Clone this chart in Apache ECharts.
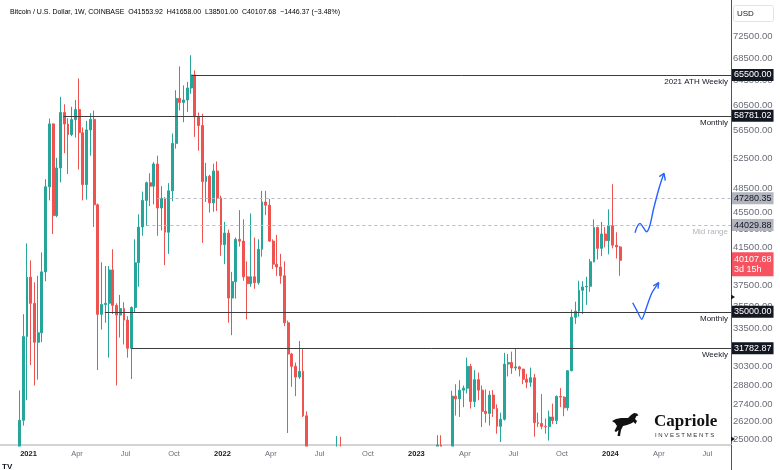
<!DOCTYPE html>
<html><head><meta charset="utf-8">
<script src="https://cdn.jsdelivr.net/npm/echarts@6/dist/echarts.min.js"></script>
<style>html,body{margin:0;padding:0;background:#fff}#c{width:780px;height:470px}</style>
</head><body><div id="c"></div>
<script>
// ---------- DATA (weekly BTC/USD, Coinbase) ----------
const firstWeek = '2020-12-21';   // Monday of first weekly bar
const open = [23480,26270,32780,38360,35790,32290,33110,38900,48720,57540,45140,51210,59300,57520,55950,58200,59770,56220,49000,56630,58230,46460,34770,35680,35800,39100,35600,34700,35300,34240,31780,35400,39850,43800,47000,49250,48800,51750,46060,47260,43200,48200,54650,61550,60900,61300,63270,65500,58620,57300,49400,50100,46700,50800,47300,41800,43100,36300,37900,42400,42200,38400,37700,38400,37800,41300,46800,46400,42200,39700,39400,38500,34000,31300,30300,29450,29900,26580,20550,21030,19300,20850,20800,22600,23300,23180,24300,21520,20050,19800,21800,19400,18800,19300,19400,19200,20600,20630,20900,16300,16280,16450,17100,17120,16750,16850,16550,17130,20900,22700,23750,22950,21800,24600,23550,22430,22150,28000,27800,28450,28600,30300,27600,29250,28450,26900,26750,28080,27100,25850,26340,30480,30600,30170,30250,30080,29280,29050,29400,26100,26050,25850,25830,26500,26250,27980,27930,27150,29950,34500,35050,37050,37380,37450,39950,43750,41400,43000,42250,43950,41750,41553.92];
const high = [28420,34780,41950,40100,37850,38500,40950,49700,58350,57600,52600,61800,60600,58400,60200,61300,64900,57000,58000,59200,59600,46600,39900,39500,39500,41300,35800,36600,35900,34600,35500,42400,45300,48100,49400,50500,52000,52900,48800,47400,49200,56100,62900,67000,63700,64300,69000,66300,59300,59100,51900,50300,51800,52100,47600,44400,43500,38900,42600,45800,44700,40000,45400,42600,42400,48200,48200,47200,42400,42900,40800,40000,34200,31400,30600,32400,31700,26900,21900,21550,22500,21600,24280,24550,23650,25200,25150,21850,20550,21850,22800,19950,20350,20450,19950,19700,21000,21480,21050,17200,16800,17400,17450,18400,17050,16950,17200,21450,23350,23800,24250,23450,25250,25250,23900,22600,28400,28900,29200,28800,31000,30500,30000,29800,28800,28500,28400,28450,27400,26800,31400,31300,31500,31800,30350,30100,29700,30200,29700,26800,28150,26400,26950,27450,28050,28600,27980,30000,35200,35950,38000,37950,38400,40250,44700,43850,44400,43800,45900,49050,43200,41658.00];
const low = [22350,25900,27700,30400,28800,29250,32300,37950,47000,43000,44950,49300,53250,50400,55700,55500,51000,47000,47100,52900,43800,30000,33400,34000,31000,34800,28800,32700,32100,31000,29300,34900,37400,42800,43900,46300,46500,42800,43400,39600,40800,46900,53900,59600,57800,59400,62300,55600,53600,42000,46800,45500,45600,45700,40600,39700,34000,32900,36250,41600,38000,34300,37400,37200,37600,40500,45200,42100,39200,38500,37700,33700,25400,28700,28000,29300,26500,17600,19650,18650,19050,18900,20750,20700,22400,22650,20800,19550,19600,18550,19350,18150,18500,19100,18200,18650,19250,20050,15600,15800,15450,16000,16700,16500,16400,16350,16520,17000,20400,22300,22500,21450,21400,23100,21900,19600,21900,26600,26500,27200,28200,27100,27200,27700,25800,26100,25900,26500,25350,24800,26250,29500,29700,29950,29500,28900,28600,28700,25150,25800,25650,25350,24900,26000,26000,27200,26550,26950,29900,33900,34550,34800,35650,36900,39900,40200,40550,41500,40750,41400,40300,38501.00];
const close = [26270,32780,38360,35790,32290,33110,38900,48720,57540,45140,51210,59300,57520,55950,58200,59770,56220,49000,56630,58230,46460,34770,35680,35800,39100,35600,34700,35300,34240,31780,35400,39850,43800,47000,49250,48800,51750,46060,47260,43200,48200,54650,61550,60900,61300,63270,65500,58620,57300,49400,50100,46700,50800,47300,41800,43100,36300,37900,42400,42200,38400,37700,38400,37800,41300,46800,46400,42200,39700,39400,38500,34000,31300,30300,29450,29900,26580,20550,21030,19300,20850,20800,22600,23300,23180,24300,21520,20050,19800,21800,19400,18800,19300,19400,19200,20600,20630,20900,16300,16280,16450,17100,17120,16750,16850,16550,17130,20900,22700,23750,22950,21800,24600,23550,22430,22150,28000,27800,28450,28600,30300,27600,29250,28450,26900,26750,28080,27100,25850,26340,30480,30600,30170,30250,30080,29280,29050,29400,26100,26050,25850,25830,26500,26250,27980,27930,27150,29950,34500,35050,37050,37380,37450,39950,43750,41400,43000,42250,43950,41750,41553.92,40107.68];

const priceTicks = [25000,26200,27400,28800,30300,33500,35500,37500,39500,41500,43500,45500,48500,52500,56500,60500,64500,68500,72500];
const timeTicks = ['2021-01-04','2021-04-05','2021-07-05','2021-10-04','2022-01-03','2022-04-04','2022-07-04','2022-10-03','2023-01-02','2023-04-03','2023-07-03','2023-10-02','2024-01-01','2024-04-01','2024-07-01'];
const monthNames = ['','','','Apr','','','Jul','','','Oct','',''];

// horizontal levels
const levelValues = [65500, 58781.02, 35000, 31782.87, 47280.35, 44029.88];
const levelStarts = ['2021-11-09','2021-03-13','2021-05-30','2021-07-19','2021-09-06','2021-08-16'];
const levelTexts  = ['2021 ATH Weekly','Monthly','Monthly','Weekly','','Mid range'];
const levelKinds  = ['solid','solid','solid','solid','dash','dash'];
const lastPrice = 40107.68;
const lastPriceTimer = '3d 15h';
const changeText = '\u22121446.37 (\u22123.48%)';

// hand-drawn arrows: [time, price]
const arrowUpPath = [['2024-02-19T01:00',43150],['2024-02-23T17:30',43920],['2024-02-28T10:00',44230],['2024-03-05T01:00',43800],['2024-03-12T00:00',43260],['2024-03-18T04:30',44040],['2024-03-24T09:00',45820],['2024-03-30T18:00',47460],['2024-04-05T23:00',48950],['2024-04-13T11:00',50490]];
const arrowUpHead = [['2024-04-04T15:30',50040],['2024-04-13T11:00',50490],['2024-04-15T21:30',49510]];
const arrowDownPath = [['2024-02-14T17:00',35850],['2024-02-22T19:00',35080],['2024-03-02T14:30',34310],['2024-03-12T00:00',35480],['2024-03-21T09:00',36760],['2024-04-03T12:30',37800]];
const arrowDownHead = [['2024-03-24T09:00',37480],['2024-04-03T12:30',37800],['2024-04-02T05:00',37210]];

// ---------- BUILD ----------
const DAY = 864e5;
const ts = s => Date.parse(s.length === 10 ? s + 'T00:00:00Z' : s + ':00Z');
const t0 = ts(firstWeek);
const candles = open.map((o, i) => [t0 + i * 7 * DAY, o, close[i], low[i], high[i]]);
const anchor = ts('2021-01-04');
const X_MIN = anchor - 50.67 * DAY;
const X_MAX = anchor + 1321.18 * DAY;
const Y_MIN = 24606, Y_MAX = 79858;
const FONT = '"Liberation Sans", Arial, sans-serif';
const UP = '#26a69a', DOWN = '#ef5350';
const HIDDEN = {color: 'rgba(0,0,0,0)', width: 1, opacity: 1};

const levelLines = levelValues.map((v, i) => {
  const solid = levelKinds[i] === 'solid';
  return [{
    coord: [ts(levelStarts[i]), v],
    lineStyle: solid ? {color: '#3c3c3c', width: 1, type: 'solid'} : {color: '#b8bbc4', width: 1, type: [3, 3]},
    label: {show: !!levelTexts[i], position: 'insideEndBottom', distance: 3, formatter: levelTexts[i] || ' ',
      color: solid ? '#131722' : '#b2b5be', fontSize: 8, fontFamily: FONT}
  }, {coord: [X_MAX, v]}];
});

const labels = [];
priceTicks.forEach(v => labels.push({
  yAxis: v, lineStyle: HIDDEN,
  label: {show: true, position: 'end', distance: 2, formatter: v.toFixed(2), color: '#6a6d78', fontSize: 9.5, fontFamily: FONT}
}));
timeTicks.forEach(s => {
  const d = new Date(ts(s)); const m = d.getUTCMonth();
  const isYear = m === 0;
  labels.push({
    xAxis: ts(s), lineStyle: HIDDEN,
    label: {show: true, position: 'start', distance: 5, formatter: isYear ? String(d.getUTCFullYear()) : monthNames[m],
      color: isYear ? '#131722' : '#6a6d78', fontWeight: isYear ? 'bold' : 'normal', fontSize: 7.5, fontFamily: FONT, padding: [0, 0, 0, 3]}
  });
});
levelValues.forEach((v, i) => {
  const solid = levelKinds[i] === 'solid';
  labels.push({
    yAxis: v, lineStyle: HIDDEN,
    label: {show: true, position: 'end', distance: 1, formatter: v.toFixed(2),
      backgroundColor: solid ? '#131722' : '#b2b5be', color: solid ? '#ffffff' : '#131722',
      padding: [2, 2, 1, 2], fontSize: 9, fontFamily: FONT}
  });
});
labels.push({
  yAxis: lastPrice, lineStyle: HIDDEN,
  label: {show: true, position: 'end', distance: 1, offset: [0, 4],
    formatter: lastPrice.toFixed(2) + '\n' + lastPriceTimer,
    backgroundColor: '#f7525f', color: '#ffffff', padding: [2, 2, 2, 2], fontSize: 9, lineHeight: 10, fontFamily: FONT, align: 'left'}
});

const toPts = arr => arr.map(p => [ts(p[0]), p[1]]);
const arrowStyle = {color: '#2962ff', width: 1.4};
const arrowSeries = (data, smooth) => ({
  type: 'line', data: toPts(data), smooth: smooth, symbol: 'none', lineStyle: arrowStyle,
  silent: true, z: 5, animation: false
});

const headerRich = {
  t: {color: '#3a3d45', fontSize: 7, fontFamily: FONT},
  k: {color: '#3a3d45', fontSize: 7, fontFamily: FONT},
  v: {color: '#f23645', fontSize: 7, fontFamily: FONT}
};
const n = open.length - 1;
const headerText = '{t|Bitcoin / U.S. Dollar, 1W, COINBASE}  {k|O}{v|' + open[n].toFixed(2) + '}  {k|H}{v|' + high[n].toFixed(2) +
  '}  {k|L}{v|' + low[n].toFixed(2) + '}  {k|C}{v|' + close[n].toFixed(2) + '}  {v|' + changeText + '}';

const chart = echarts.init(document.getElementById('c'), null, {renderer: 'canvas', width: 780, height: 470});
chart.setOption({
  animation: false,
  backgroundColor: '#ffffff',
  grid: {left: 0, right: 49, top: 0, bottom: 25, containLabel: false},
  xAxis: {
    type: 'time', min: X_MIN, max: X_MAX,
    axisLine: {show: true, onZero: false, lineStyle: {color: '#d3d3d3', width: 2}},
    axisTick: {show: false}, splitLine: {show: false}, axisLabel: {show: false}
  },
  yAxis: {
    type: 'log', logBase: 10, min: Y_MIN, max: Y_MAX, position: 'right',
    axisLine: {show: true, lineStyle: {color: '#50535e', width: 1}},
    axisTick: {show: false}, axisLabel: {show: false}, splitLine: {show: false}
  },
  series: [
    {
      type: 'candlestick', data: candles, barWidth: 2.4, clip: true,
      itemStyle: {color: UP, color0: DOWN, borderColor: UP, borderColor0: DOWN, borderWidth: 1},
      markLine: {silent: true, symbol: ['none', 'none'], animation: false, data: levelLines}
    },
    arrowSeries(arrowUpPath, 0.35),
    arrowSeries(arrowUpHead, false),
    arrowSeries(arrowDownPath, 0.2),
    arrowSeries(arrowDownHead, false),
    {
      type: 'line', data: [], silent: true, z: 20,
      markLine: {silent: true, z: 20, symbol: ['none', 'none'], animation: false, data: labels}
    }
  ],
  graphic: [
    {type: 'rect', z: 10, shape: {x: 0, y: 446.5, width: 731, height: 24}, style: {fill: '#ffffff'}},
    {type: 'text', left: 10, top: 9, style: {text: headerText, rich: headerRich, fontSize: 7, fontFamily: FONT}},
    {type: 'rect', shape: {x: 733.5, y: 5.5, width: 40, height: 16, r: 2}, style: {fill: '#ffffff', stroke: '#e0e3eb', lineWidth: 1}},
    {type: 'text', x: 737, y: 9.5, style: {text: 'USD', fontSize: 8, fill: '#131722', fontFamily: FONT}},
    {type: 'line', z: 11, shape: {x1: 731.5, y1: 445, x2: 731.5, y2: 470}, style: {stroke: '#50535e', lineWidth: 1}},
    {type: 'polygon', z: 30, shape: {points: [[731, 294.5], [735, 297], [731, 299.5]]}, style: {fill: '#131722'}},
    {type: 'polygon', z: 30, shape: {points: [[731, 436.5], [735, 439], [731, 441.5]]}, style: {fill: '#131722'}},
    {type: 'polygon', z: 11, shape: {points: [[612,421],[616,419],[621,418],[628,418],[631,415],[634,413],[637,413.5],[638.5,415.5],[636.5,416],[635,419],[637,421],[635.5,424],[633.5,422],[631,423.5],[627,425],[623,426],[621,430],[620,436],[617.5,436],[618.5,430],[616,432],[614.5,431],[617,426],[615,423]]}, style: {fill: '#111111'}},
    {type: 'text', z: 11, x: 654, y: 413, style: {text: 'Capriole', fontSize: 17, fontWeight: 'bold', fontFamily: '"Liberation Serif", "DejaVu Serif", serif', fill: '#111111'}},
    {type: 'text', z: 11, x: 655, y: 432, style: {text: 'I N V E S T M E N T S', fontSize: 6, fontFamily: FONT, fill: '#333333'}},
    {type: 'text', z: 11, x: 2, y: 463, style: {text: 'TV', fontSize: 8, fontWeight: 'bold', fontFamily: FONT, fill: '#131722'}}
  ]
});
</script></body></html>
